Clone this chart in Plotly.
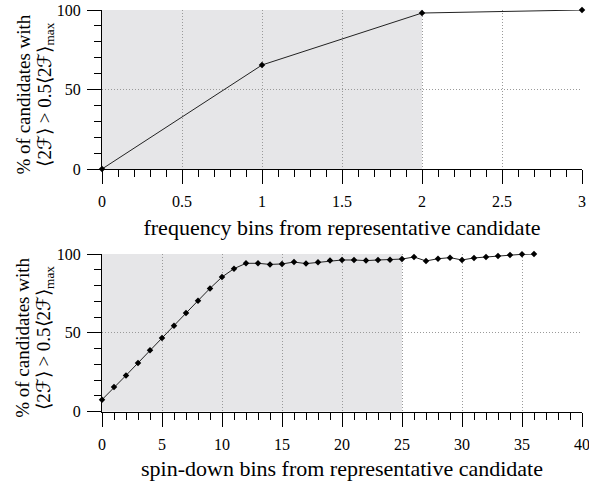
import plotly.graph_objects as go
from plotly.subplots import make_subplots

# Frequency offset (bins) vs. percentage of candidates above threshold
freq_bins = [0, 1, 2, 3]
freq_pct = [0.0, 65.4, 98.1, 100.0]

# Spin-down offset (bins) vs. percentage of candidates above threshold
sd_bins = list(range(0, 37))
sd_pct = [7.6, 15.6, 23.0, 30.9, 38.9, 46.7, 54.5, 62.6, 70.4, 78.2,
          85.4, 90.7, 94.1, 94.1, 93.4, 93.7, 94.9, 93.9, 94.7, 95.8,
          96.2, 96.2, 95.8, 96.2, 96.4, 96.8, 98.1, 95.6, 97.0, 97.7,
          96.2, 97.5, 98.1, 98.7, 99.4, 99.8, 100.0]

# Shaded region limits
freq_shade = 2
sd_shade = 25

FONT = "Liberation Serif"
W, H = 589, 481
ML, MR, MT, MB = 102, 7, 10, 69

fig = make_subplots(rows=2, cols=1, vertical_spacing=0.0)

line = dict(color="#222222", width=1)
marker = dict(color="black", size=5, symbol="diamond")
fig.add_trace(go.Scatter(x=freq_bins, y=freq_pct, mode="lines+markers",
                         line=line, marker=marker, cliponaxis=False,
                         showlegend=False), row=1, col=1)
fig.add_trace(go.Scatter(x=sd_bins, y=sd_pct, mode="lines+markers",
                         line=line, marker=marker, cliponaxis=False,
                         showlegend=False), row=2, col=1)

shade = "#e6e6e8"
fig.add_shape(type="rect", xref="x", yref="y", x0=0, x1=freq_shade, y0=0, y1=100,
              fillcolor=shade, line_width=0, layer="below")
fig.add_shape(type="rect", xref="x2", yref="y2", x0=0, x1=sd_shade, y0=0, y1=100,
              fillcolor=shade, line_width=0, layer="below")

ph = H - MT - MB
def dom(top_px, bot_px):
    return [(H - MB - bot_px) / ph, (H - MB - top_px) / ph]

tickfont = dict(family=FONT, size=16, color="black")
minor_style = dict(ticks="outside", ticklen=7, tickcolor="black", showgrid=False)
common = dict(showline=True, linecolor="black", linewidth=1, ticks="outside",
              ticklen=14, tickwidth=1, tickcolor="black", showgrid=True,
              gridcolor="#9a9a9a", griddash="1px,2px", gridwidth=1, zeroline=False,
              tickfont=tickfont, automargin=False, mirror=False,
              ticklabeloverflow="allow")
fig.update_xaxes(ticklabelstandoff=4, **common)
fig.update_yaxes(ticklabelstandoff=3, **common)

title_font = dict(family=FONT, size=22, color="black")
fig.update_layout(
    xaxis=dict(range=[0, 3], dtick=0.5, tick0=0,
               minor=dict(dtick=0.1, **minor_style),
               title=dict(text="frequency bins from representative candidate",
                          font=title_font, standoff=10)),
    yaxis=dict(range=[0, 100], dtick=50, domain=dom(10, 169),
               minor=dict(dtick=10, **minor_style)),
    xaxis2=dict(range=[0, 40], dtick=5, tick0=0,
                minor=dict(dtick=1, **minor_style),
                title=dict(text="spin-down bins from representative candidate",
                           font=title_font, standoff=10)),
    yaxis2=dict(range=[0, 100], dtick=50, domain=dom(254, 411.7),
                minor=dict(dtick=10, **minor_style)),
)

ytitle1 = "% of candidates with"
ytitle2 = "⟨2ℱ⟩ > 0.5⟨2ℱ⟩<sub>max</sub>"
yfont = dict(family=FONT, size=19, color="black")
for yref in ("y domain", "y2 domain"):
    fig.add_annotation(text=ytitle1, xref="paper", yref=yref, x=0, y=0.5,
                       xanchor="center", yanchor="middle",
                       xshift=-79, yshift=-5, textangle=-90, showarrow=False,
                       font=yfont)
    fig.add_annotation(text=ytitle2, xref="paper", yref=yref, x=0, y=0.5,
                       xanchor="center", yanchor="middle",
                       xshift=-57, yshift=-5, textangle=-90, showarrow=False,
                       font=yfont)

fig.update_layout(width=W, height=H, margin=dict(l=ML, r=MR, t=MT, b=MB),
                  paper_bgcolor="white", plot_bgcolor="white",
                  font=dict(family=FONT, color="black"))

fig.write_html("out.html")
